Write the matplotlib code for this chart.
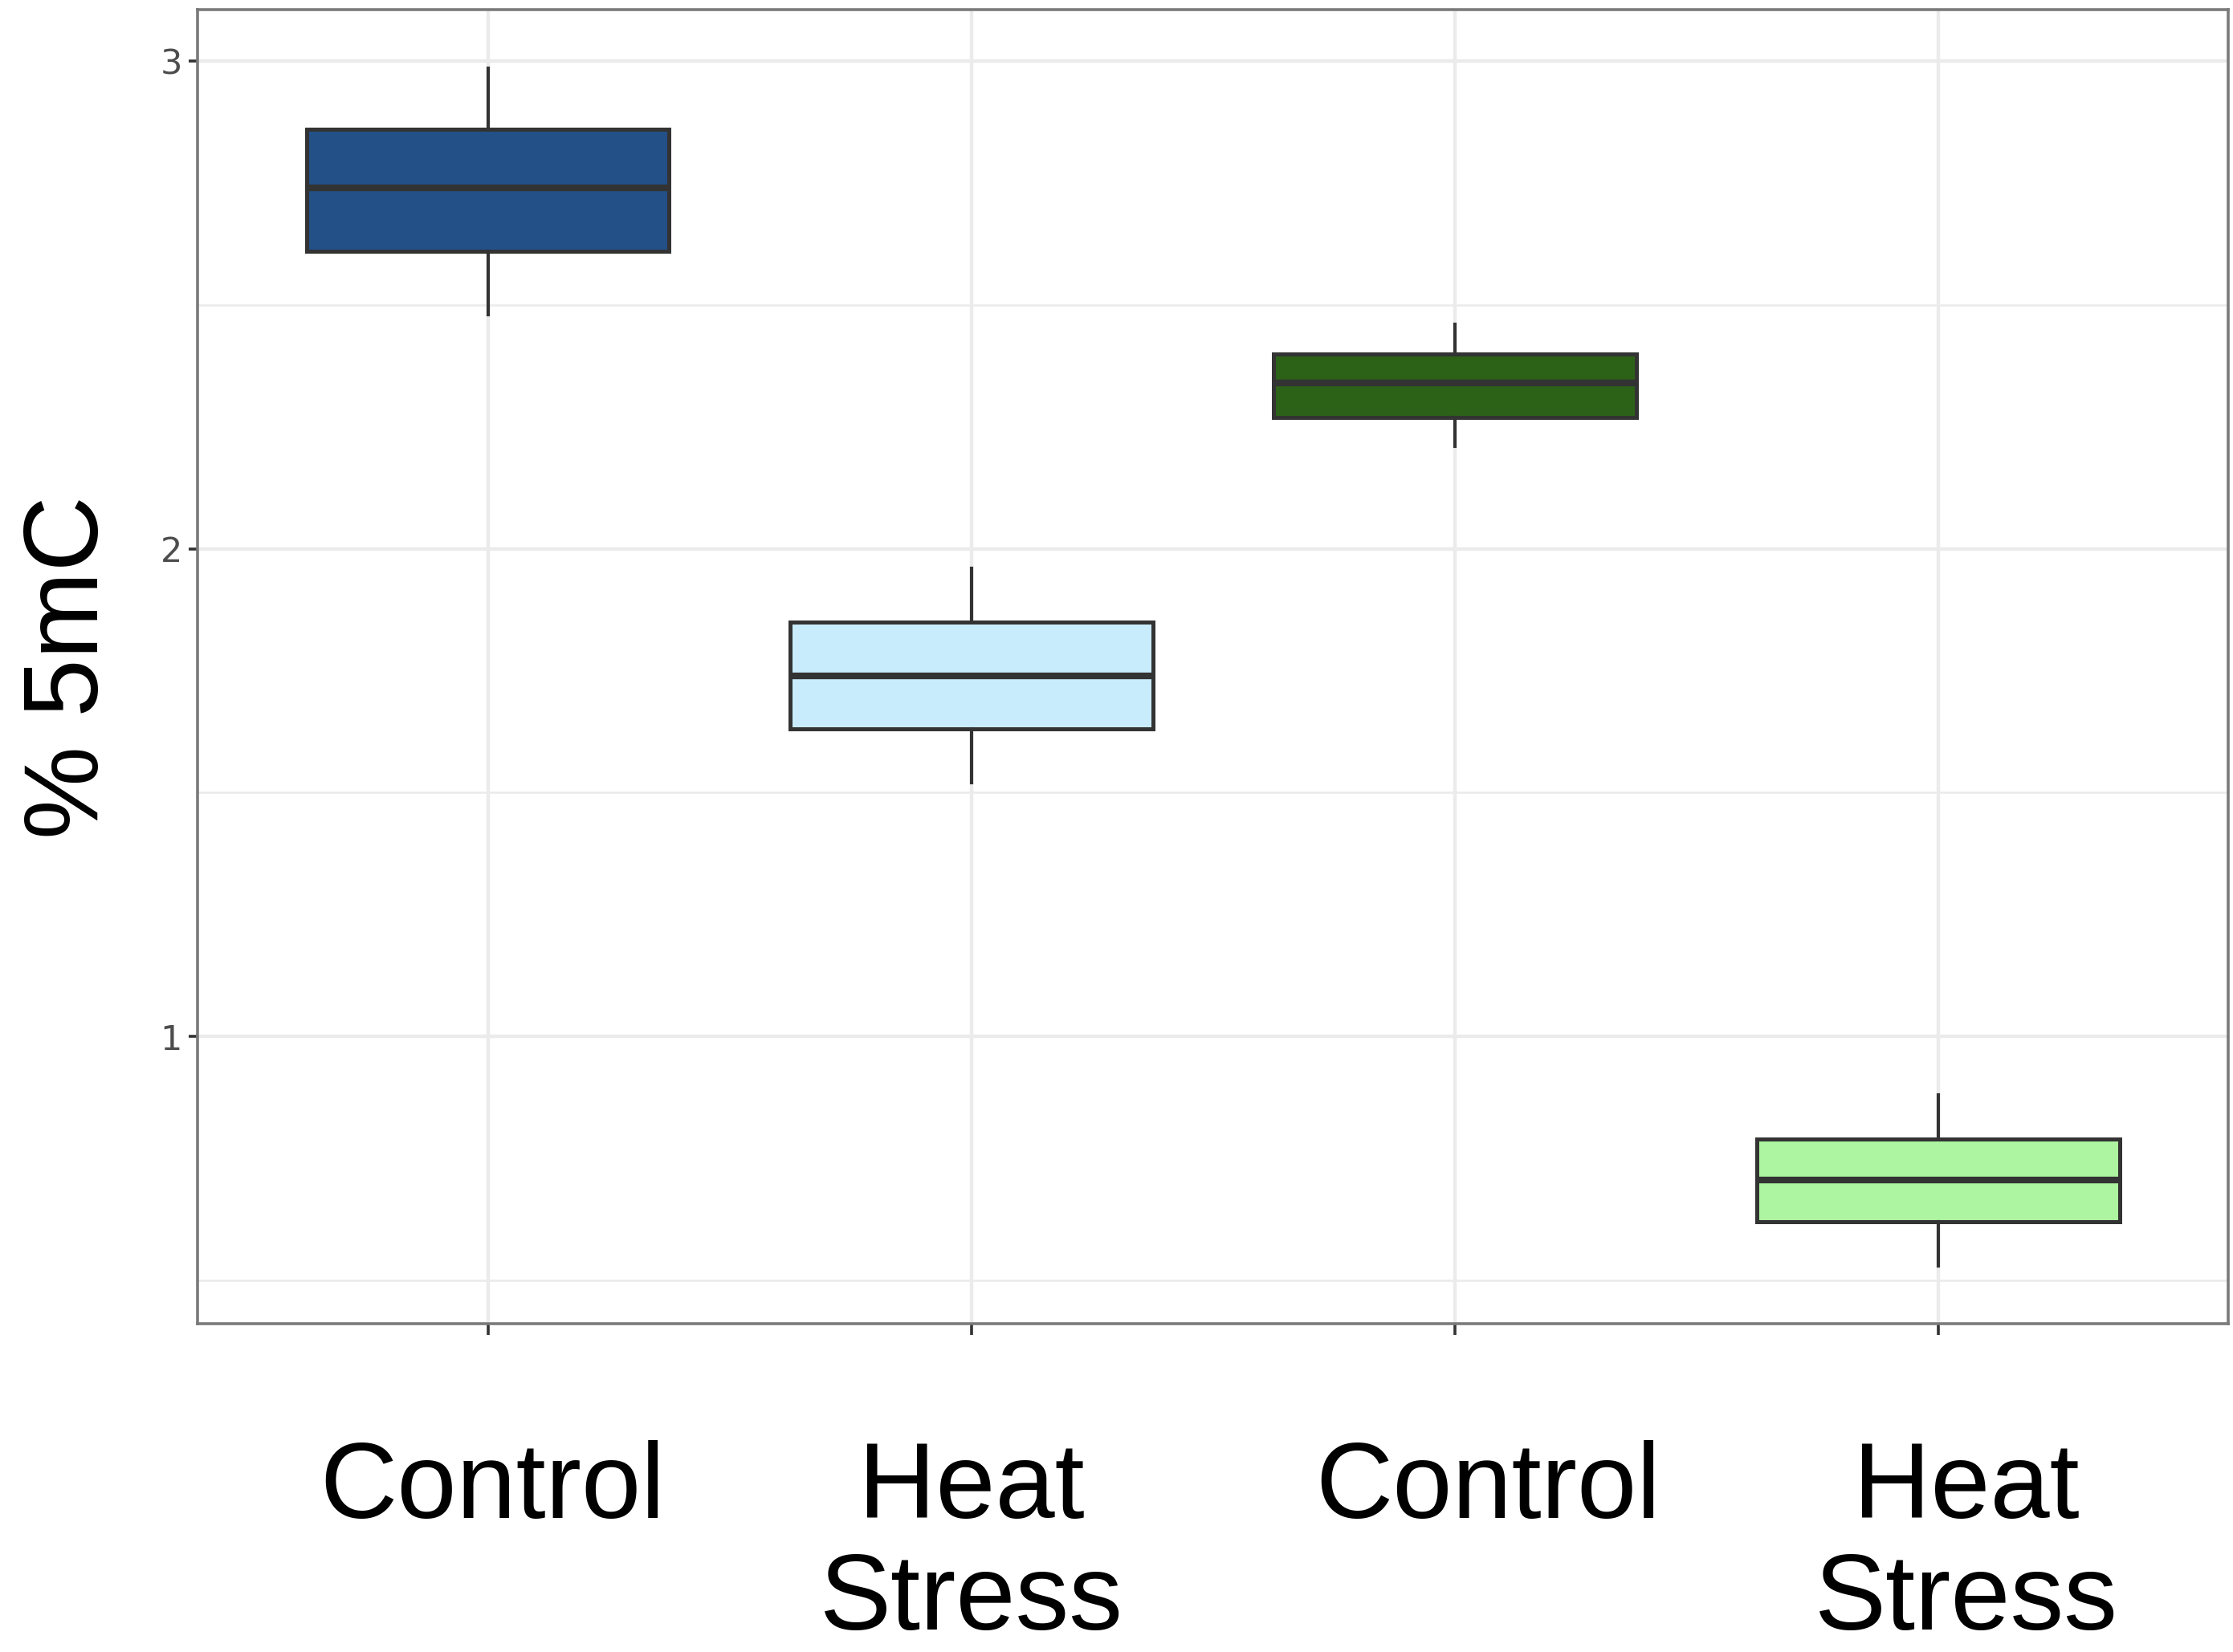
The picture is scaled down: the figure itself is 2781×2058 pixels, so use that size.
import matplotlib.pyplot as plt
from matplotlib.ticker import MultipleLocator
from matplotlib.transforms import ScaledTranslation

# values (% 5mC)
labels = ["Control", "Heat\nStress", "Control", "Heat\nStress"]
whislo = [2.48, 1.52, 2.21, 0.53]
q1 = [2.61, 1.63, 2.27, 0.62]
med = [2.74, 1.74, 2.34, 0.705]
q3 = [2.86, 1.85, 2.40, 0.79]
whishi = [2.985, 1.96, 2.46, 0.88]
colors = ["#225087", "#C8ECFB", "#2C6118", "#ADF5A0"]

stats = []
for i in range(len(labels)):
    stats.append({"whislo": whislo[i], "q1": q1[i], "med": med[i],
                  "q3": q3[i], "whishi": whishi[i], "fliers": []})

fig = plt.figure(figsize=(27.81, 20.58), dpi=100)
ax = fig.add_axes([0.0886, 0.1985, 0.9094, 0.7955])

positions = [1, 2, 3, 4]
bp = ax.bxp(stats, positions=positions, widths=0.75, patch_artist=True,
            showcaps=False, showfliers=False,
            boxprops=dict(edgecolor="#333333", linewidth=3.6),
            medianprops=dict(color="#333333", linewidth=6),
            whiskerprops=dict(color="#333333", linewidth=3))
for patch, c in zip(bp["boxes"], colors):
    patch.set_facecolor(c)
for artist in bp["boxes"] + bp["medians"] + bp["whiskers"]:
    artist.set_zorder(3)

ax.set_xlim(0.4, 4.6)
ax.set_ylim(0.41, 3.105)
ax.yaxis.set_major_locator(MultipleLocator(1))
ax.yaxis.set_minor_locator(MultipleLocator(0.5))
ax.xaxis.set_minor_locator(plt.NullLocator())

ax.grid(which="major", color="#EBEBEB", linewidth=3.2, zorder=0)
ax.grid(which="minor", axis="y", color="#EBEBEB", linewidth=1.8, zorder=0)
ax.set_axisbelow(True)

for sp in ax.spines.values():
    sp.set_color("#7A7A7A")
    sp.set_linewidth(2.6)

ax.set_xticks(positions)
ax.set_xticklabels(labels, fontsize=96, family="Liberation Sans",
                   va="top", linespacing=1.15)
ax.tick_params(axis="x", length=10, width=2.6, color="#333333", pad=94)
ax.tick_params(axis="y", which="major", length=8, width=2.6, color="#333333",
               labelsize=31, labelcolor="#4D4D4D", pad=6)
ax.tick_params(axis="y", which="minor", length=0)
ax.set_yticks([1, 2, 3])
ax.set_yticklabels(["1", "2", "3"])

# labels in the original sit a little right of their ticks
shifts = [5, 0, 41, 35]
for lbl, dx in zip(ax.get_xticklabels(), shifts):
    lbl.set_transform(lbl.get_transform() + ScaledTranslation(dx / 100, 0, fig.dpi_scale_trans))

ax.set_ylabel("% 5mC", fontsize=94, family="Liberation Sans", labelpad=36)

fig.savefig("out.png", dpi=100, facecolor="white")
